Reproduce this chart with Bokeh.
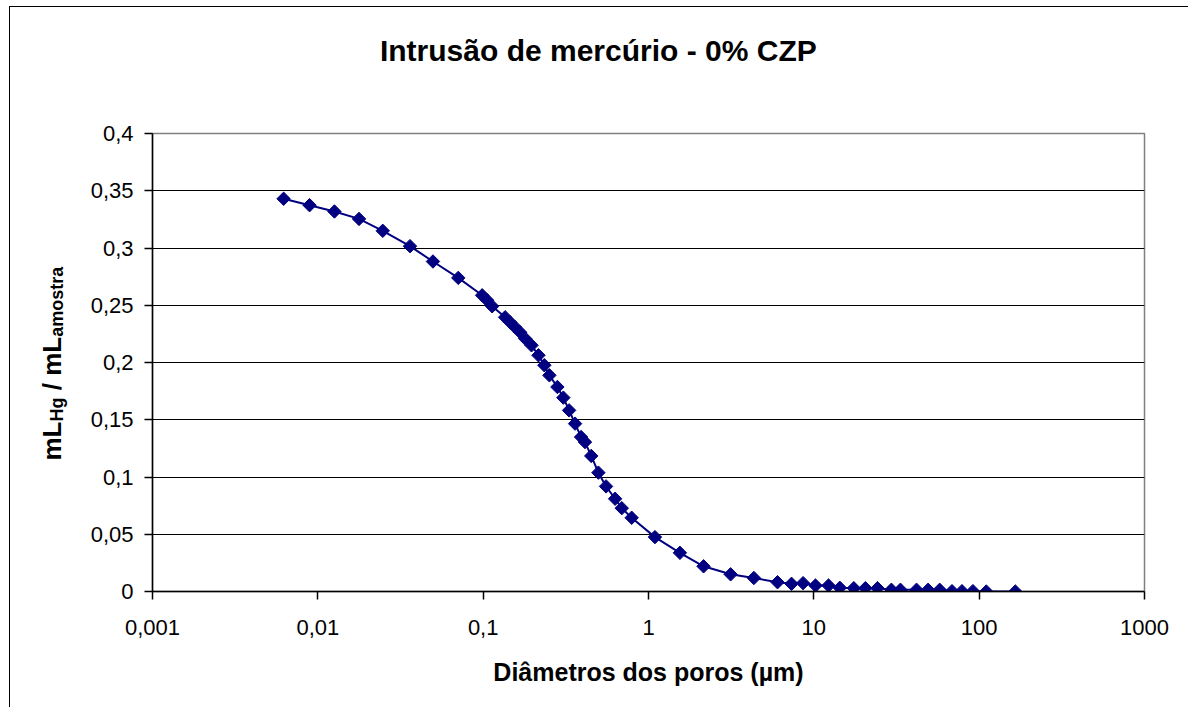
import math
from bokeh.plotting import figure
from bokeh.layouts import column, row
from bokeh.models import FixedTicker, CustomJSTickFormatter, Range1d
from bokeh.core.properties import value
from bokeh.embed import file_html
from bokeh.resources import INLINE

# ---- data ----
diametro_um = [0.00621, 0.00891, 0.0126, 0.01775, 0.0247, 0.0361, 0.0497, 0.0707,
               0.0986, 0.1057, 0.1133, 0.1358, 0.1456, 0.156, 0.1673, 0.1794, 0.196,
               0.216, 0.2344, 0.2515, 0.2812, 0.3055, 0.331, 0.3597, 0.391, 0.413,
               0.4505, 0.4977, 0.5537, 0.628, 0.689, 0.791, 1.094, 1.549, 2.153,
               3.138, 4.337, 6.03, 7.33, 8.61, 10.23, 12.27, 14.36, 17.45, 20.5,
               24.26, 29.45, 33.4, 41.8, 49.1, 57.7, 68.5, 78.7, 91.7, 110.4, 165.5]
volume_rel = [0.343, 0.3374, 0.3319, 0.3254, 0.315, 0.3016, 0.2882, 0.2739,
              0.2587, 0.2544, 0.2491, 0.2395, 0.2351, 0.2308, 0.2264, 0.2209, 0.2150,
              0.2063, 0.1976, 0.1888, 0.1786, 0.1693, 0.1582, 0.1466, 0.1349, 0.1305,
              0.1184, 0.1038, 0.0918, 0.081, 0.0728, 0.0644, 0.0475, 0.0338, 0.022,
              0.015, 0.0118, 0.0081, 0.0067, 0.0073, 0.0052, 0.0052, 0.0032, 0.0029, 0.0029,
              0.0029, 0.0015, 0.0015, 0.0015, 0.0015, 0.0015, 0.0003, 0.0003, 0.0003, 0.0, 0.0]

x_ticks = [0.001, 0.01, 0.1, 1, 10, 100, 1000]
y_ticks = [0, 0.05, 0.1, 0.15, 0.2, 0.25, 0.3, 0.35, 0.4]

title_text = "Intrusão de mercúrio - 0%  CZP"
x_label = "Diâmetros dos poros (µm)"
# (text, kind, extra space before in em of main font)
y_label_parts = [("mL", "main", 0), ("Hg", "sub", 0), ("/", "main", 0.278),
                 ("mL", "main", 0.278), ("amostra", "sub", 0)]

FONT = "Liberation Sans"
NAVY = "#000080"

# page geometry: wrapper starts at (9,6) with a 1px border -> content origin (10,7)
OX, OY = 10, 7
FL, FT, FW, FH = 152, 133, 992, 458   # plot frame, page pixels
TOTAL_W = 1178
TITLE_H = 80
LAB_W = 70
MAIN_W = TOTAL_W - LAB_W
MAIN_H = 620
top_main = OY + TITLE_H                # page y of the row top
mb_left = FL - (OX + LAB_W)
mb_top = FT - top_main
mb_bottom = MAIN_H - mb_top - FH


def blank_fig(w, h, xr, yr, mbt=0, mbb=0):
    f = figure(width=w, height=h, x_range=xr, y_range=yr,
               output_backend="svg", toolbar_location=None,
               x_axis_location=None, y_axis_location=None,
               min_border_left=0, min_border_right=0,
               min_border_top=mbt, min_border_bottom=mbb)
    f.grid.visible = False
    f.outline_line_color = None
    f.background_fill_color = "white"
    f.border_fill_color = "white"
    return f


# ---- title strip ----
tfig = blank_fig(TOTAL_W, TITLE_H, Range1d(OX, OX + TOTAL_W), Range1d(-(OY + TITLE_H), -OY))
tfig.text(x=[602], y=[-50], text=[title_text],
          text_font=value(FONT), text_font_size=value("30px"), text_font_style="bold",
          text_align="center", text_baseline="middle", text_color="black")

# ---- y-label strip: frame aligned with the main frame ----
lfig = blank_fig(LAB_W, MAIN_H, Range1d(OX, OX + LAB_W), Range1d(-(FT + FH), -FT),
                 mbt=mb_top, mbb=mb_bottom)
bold_w = {"m": 0.889, "L": 0.611, "H": 0.722, "g": 0.611, " ": 0.278, "/": 0.278,
          "a": 0.556, "o": 0.611, "s": 0.556, "t": 0.333, "r": 0.389}
main_sz, sub_sz = 26, 18
bx0 = 51
ypos = 460.0   # where the label starts (bottom)
for txt, kind, gap in y_label_parts:
    sz = main_sz if kind == "main" else sub_sz
    bx = bx0 if kind == "main" else bx0 + 5
    ypos -= gap * main_sz
    lfig.text(x=[bx], y=[-ypos], text=[txt], angle=math.pi / 2,
              text_font=value(FONT), text_font_size=value(f"{sz}px"), text_font_style="bold",
              text_align="left", text_baseline="alphabetic", text_color="black")
    ypos -= sum(bold_w.get(c, 0.6) for c in txt) * sz

# ---- main chart ----
p = figure(width=MAIN_W, height=MAIN_H, x_axis_type="log", output_backend="svg",
           toolbar_location=None, x_range=Range1d(0.001, 1000), y_range=Range1d(0, 0.4),
           min_border_left=mb_left, min_border_right=MAIN_W - mb_left - FW,
           min_border_top=mb_top, min_border_bottom=mb_bottom)
p.background_fill_color = "white"
p.border_fill_color = "white"
p.outline_line_color = "#808080"
p.outline_line_width = 1.5

p.xgrid.grid_line_color = None
p.ygrid.grid_line_color = "black"
p.ygrid.grid_line_width = 1
p.ygrid.ticker = FixedTicker(ticks=y_ticks)

fmt = CustomJSTickFormatter(code="""
    var s = Number(tick.toPrecision(6)).toString();
    return s.replace('.', ',');
""")

for ax in p.xaxis:
    ax.ticker = FixedTicker(ticks=x_ticks)
    ax.formatter = fmt
    ax.minor_tick_line_color = None
    ax.major_tick_out = 8
    ax.major_tick_in = 0
    ax.axis_line_color = "black"
    ax.axis_line_width = 1.5
    ax.major_tick_line_width = 1.5
    ax.major_label_text_font = FONT
    ax.major_label_text_font_size = "22px"
    ax.major_label_text_color = "black"
    ax.major_label_standoff = 20
    ax.axis_label = x_label
    ax.axis_label_text_font = FONT
    ax.axis_label_text_font_size = "25px"
    ax.axis_label_text_font_style = "bold"
    ax.axis_label_text_color = "black"
    ax.axis_label_standoff = 20

for ax in p.yaxis:
    ax.ticker = FixedTicker(ticks=y_ticks)
    ax.formatter = fmt
    ax.minor_tick_line_color = None
    ax.major_tick_out = 8
    ax.major_tick_in = 0
    ax.axis_line_color = "black"
    ax.axis_line_width = 1.5
    ax.major_tick_line_width = 1.5
    ax.major_label_text_font = FONT
    ax.major_label_text_font_size = "22px"
    ax.major_label_text_color = "black"
    ax.major_label_standoff = 11

p.line(diametro_um, volume_rel, line_color=NAVY, line_width=2)
p.scatter(diametro_um, volume_rel, marker="square", angle=math.pi / 4, size=9.5,
          fill_color=NAVY, line_color=NAVY)

layout = column(tfig, row(lfig, p, spacing=0), spacing=0)
layout.styles = {"border-left": "1px solid black", "border-top": "1px solid black",
                 "background-color": "white"}
layout.margin = (6, 0, 0, 9)

open("out.html", "w").write(file_html(layout, INLINE))
